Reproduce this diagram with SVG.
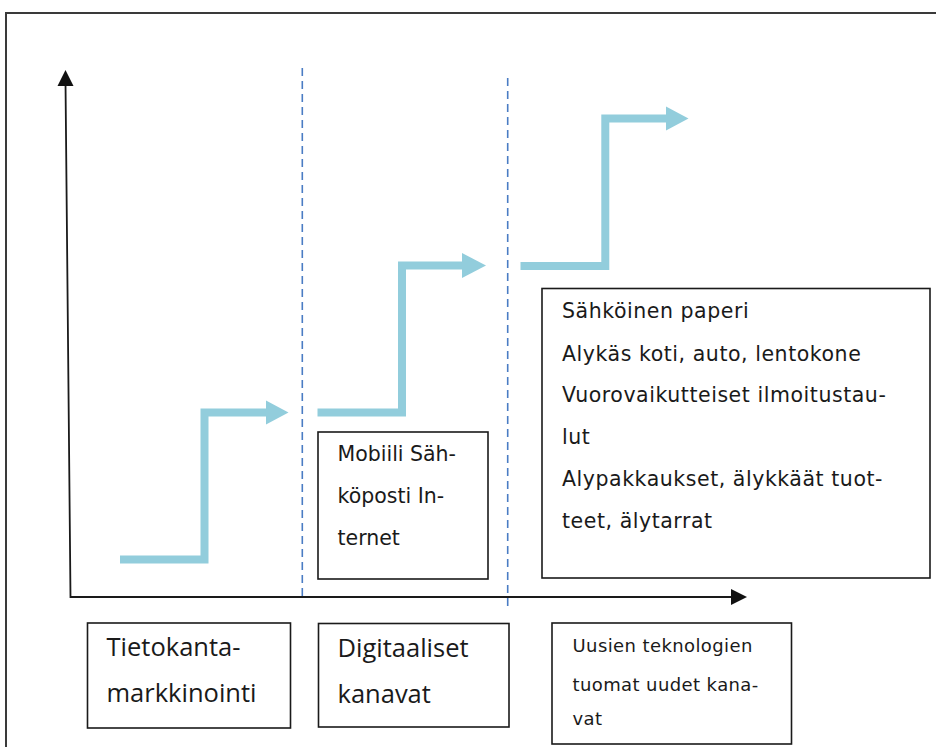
<svg xmlns="http://www.w3.org/2000/svg" width="936" height="747" viewBox="0 0 936 747">
<style>
.frame{fill:none;stroke:#3a3a3a;stroke-width:2}
.axis{fill:none;stroke:#1a1a1a;stroke-width:1.8}
.head{fill:#111}
.dash{fill:none;stroke:#4a7cc4;stroke-width:1.6;stroke-dasharray:8 5}
.step{fill:none;stroke:#92cddc;stroke-width:8;stroke-linejoin:miter}
.stephead{fill:#92cddc}
.box{fill:#fff;stroke:#1a1a1a;stroke-width:1.6}
.t1{font-family:"DejaVu Sans",sans-serif;font-size:20.5px;fill:#1a1a1a}
.big{letter-spacing:0.55px}
.t2{font-family:"Open Sans",sans-serif;font-size:25.5px;fill:#1a1a1a}
.t3{font-family:"DejaVu Sans",sans-serif;font-size:18px;letter-spacing:0.4px;fill:#1a1a1a}
</style>
<rect width="936" height="747" fill="#fff"/>
<path class="frame" d="M6 748 V13 H937"/>
<g id="connectors">
<path class="dash" d="M302.3 68 V598"/>
<path class="dash" d="M507.7 78 V610"/>
<path class="axis" d="M65.5 82 L70.5 597 H733"/>
<polygon class="head" points="65.5,70 57.5,86 73.5,86"/>
<polygon class="head" points="747,597 731,589 731,605"/>
<path class="step" d="M120 559.5 H204.5 V412.5 H266"/>
<polygon class="stephead" points="266,400.5 288.5,412.5 266,424.5"/>
<path class="step" d="M317.5 412.5 H402 V265.5 H462"/>
<polygon class="stephead" points="462,253 486,265.5 462,278"/>
<path class="step" d="M520.5 266 H605.3 V118.5 H666"/>
<polygon class="stephead" points="666,106.5 688.5,118.5 666,130.5"/>
</g>
<g id="node-mobiili">
<rect class="box" x="318" y="432" width="170" height="147"/>
<text class="t1" x="337.5" y="461">Mobiili Säh-</text>
<text class="t1" x="337.5" y="503">köposti In-</text>
<text class="t1" x="337.5" y="545">ternet</text>
</g>
<g id="node-uudet">
<rect class="box" x="542" y="288.5" width="388" height="289.5"/>
<text class="t1 big" x="562" y="317.5">Sähköinen paperi</text>
<text class="t1 big" x="562" y="360.5">Alykäs koti, auto, lentokone</text>
<text class="t1 big" x="562" y="402">Vuorovaikutteiset ilmoitustau-</text>
<text class="t1 big" x="562" y="444">lut</text>
<text class="t1 big" x="562" y="486">Alypakkaukset, älykkäät tuot-</text>
<text class="t1 big" x="562" y="528">teet, älytarrat</text>
</g>
<g id="node-tietokanta">
<rect class="box" x="87.5" y="623" width="203" height="105"/>
<text class="t2" x="106.5" y="656">Tietokanta-</text>
<text class="t2" x="106.5" y="702">markkinointi</text>
</g>
<g id="node-digitaaliset">
<rect class="box" x="318.5" y="623.5" width="190.5" height="103.5"/>
<text class="t2" x="337.5" y="656.5">Digitaaliset</text>
<text class="t2" x="337.5" y="703">kanavat</text>
</g>
<g id="node-teknologiat">
<rect class="box" x="552" y="623" width="239.5" height="121"/>
<text class="t3" x="572.5" y="651.5">Uusien teknologien</text>
<text class="t3" x="572.5" y="691">tuomat uudet kana-</text>
<text class="t3" x="572.5" y="725">vat</text>
</g>
</svg>
